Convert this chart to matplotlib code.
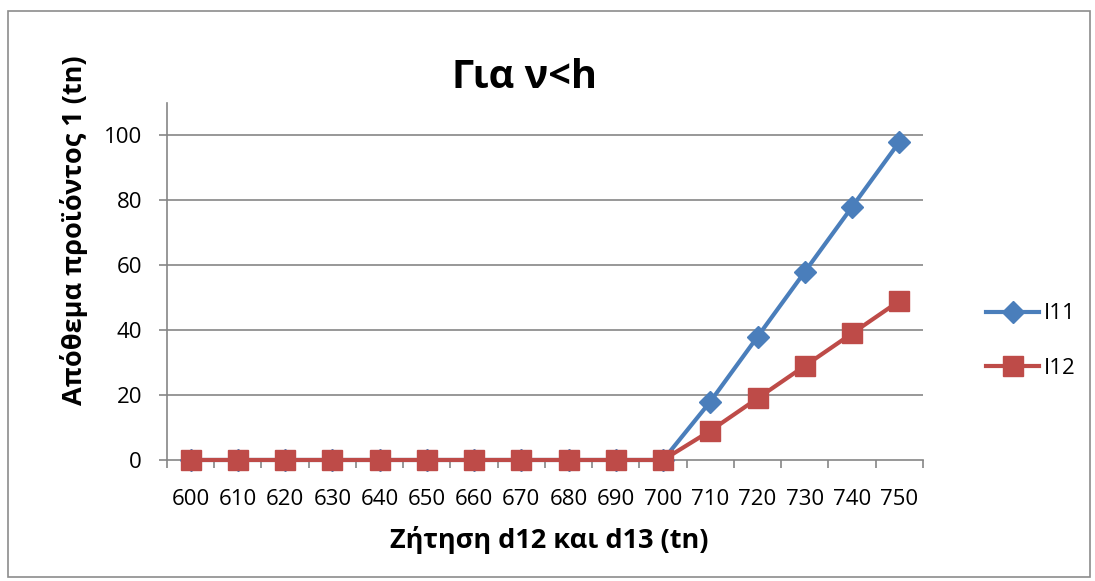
import matplotlib.pyplot as plt
from matplotlib.patches import Rectangle

# data
demand = [600, 610, 620, 630, 640, 650, 660, 670, 680, 690, 700, 710, 720, 730, 740, 750]
i11 = [0, 0, 0, 0, 0, 0, 0, 0, 0, 0, 0, 18, 38, 58, 78, 98]
i12 = [0, 0, 0, 0, 0, 0, 0, 0, 0, 0, 0, 9, 19, 29, 39, 49]
yticks = [0, 20, 40, 60, 80, 100]

plt.rcParams['font.family'] = ['Open Sans', 'DejaVu Sans']

fig = plt.figure(figsize=(10.95, 5.81), dpi=100)
ax = fig.add_axes([0.1525, 0.2083, 0.6904, 0.6144])

# chart border
fig.patches.append(Rectangle((8 / 1095, 4 / 581), 1082 / 1095, 566 / 581,
                             transform=fig.transFigure, fill=False,
                             edgecolor='#8c8c8c', linewidth=1.2))

x = list(range(len(demand)))
ax.plot(x, i11, color='#4A7EBB', linewidth=3, marker='D', markersize=11,
        label='I11', clip_on=False, zorder=3)
ax.plot(x, i12, color='#BE4B48', linewidth=3, marker='s', markersize=14,
        label='I12', clip_on=False, zorder=4)

ax.set_xlim(-0.5, len(demand) - 0.5)
ax.set_ylim(0, 110)
ax.set_yticks(yticks)
ax.set_xticks(x)
ax.set_xticklabels([str(d) for d in demand])
ax.set_xticks([i - 0.5 for i in range(len(demand) + 1)], minor=True)

for y in yticks[1:]:
    ax.axhline(y, color='#868686', linewidth=1.2, zorder=0)

for side in ['top', 'right']:
    ax.spines[side].set_visible(False)
for side in ['left', 'bottom']:
    ax.spines[side].set_color('#868686')
    ax.spines[side].set_linewidth(1.2)

ax.tick_params(axis='x', which='major', length=0, pad=21, labelsize=16)
ax.tick_params(axis='x', which='minor', length=6, color='#868686', width=1.2)
ax.tick_params(axis='y', length=6, color='#868686', width=1.2, pad=12, labelsize=16)

fig.text(524 / 1095, 1 - 77 / 581, 'Για ν<h', fontsize=28.5, fontweight='bold',
         ha='center', va='center')
fig.text(549 / 1095, 1 - 540 / 581, 'Ζήτηση d12 και d13 (tn)', fontsize=19.5,
         fontweight='bold', ha='center', va='center')
fig.text(74 / 1095, 1 - 230 / 581, 'Απόθεμα προϊόντος 1 (tn)', fontsize=19.5,
         fontweight='bold', ha='center', va='center', rotation=90)

ax.legend(loc='center left', bbox_to_anchor=(986 / 1095, 1 - 341 / 581),
          bbox_transform=fig.transFigure, frameon=False, borderpad=0,
          borderaxespad=0, fontsize=16, handlelength=2.4, labelspacing=1.5,
          handletextpad=0.2)

fig.savefig('out.png', dpi=100)
